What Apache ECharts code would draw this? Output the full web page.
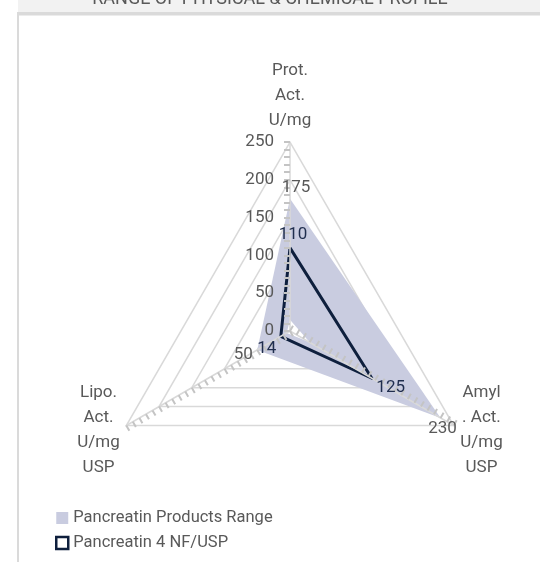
<!DOCTYPE html>
<html>
<head>
<meta charset="utf-8">
<script src="https://cdn.jsdelivr.net/npm/echarts@6/dist/echarts.min.js"></script>
<style>
html,body{margin:0;padding:0;background:#fff;}
#chart{width:540px;height:562px;}
</style>
</head>
<body>
<div id="chart"></div>
<script>
// ---- data (Excel order: clockwise from top) ----
const title = 'RANGE OF PHYSICAL & CHEMICAL PROFILE';
const categories = ['Prot.\nAct.\nU/mg', 'Amyl\n. Act.\nU/mg\nUSP', 'Lipo.\nAct.\nU/mg\nUSP'];
const rangeHigh = [175, 230, 50];
const rangeLow = [15, 30, 5];
const nfUsp = [110, 125, 14];
const axisMax = 250;
const tickLabels = [0, 50, 100, 150, 200, 250];
const legendNames = ['Pancreatin Products Range', 'Pancreatin 4 NF/USP'];

// ECharts places indicators counter-clockwise; map to clockwise display
const order = [0, 2, 1];
const reorder = arr => order.map(i => arr[i]);
const dispIdx = i => order.indexOf(i);

const FONT = 'Roboto';
const FS = 17;
const GRAY = '#595959';
const NAVY = '#0e1f3d';
const SHADE = '#c9cce0';

const nameRich = {n: {width: 40, align: 'center', fontSize: FS, lineHeight: 25, color: GRAY, fontFamily: FONT}};
function nameFmt(v) { return v.split('\n').map(s => '{n|' + s + '}').join('\n'); }

function radarBase(extra) {
  return Object.assign({
    center: [290, 331],
    radius: 189,
    startAngle: 90,
    splitNumber: 25,
    shape: 'polygon',
    indicator: order.map(i => ({name: categories[i], min: 0, max: axisMax})),
    splitArea: {show: false}
  }, extra);
}

const radars = [
  radarBase({
    z: 1,
    axisName: {formatter: nameFmt, rich: nameRich, color: GRAY, fontFamily: FONT},
    nameGap: 9,
    splitLine: {show: true, lineStyle: {color: ['#d9d9d9', 'rgba(0,0,0,0)', 'rgba(0,0,0,0)', 'rgba(0,0,0,0)', 'rgba(0,0,0,0)'], width: 1.5}},
    axisLine: {show: false},
    axisTick: {show: false},
    axisLabel: {show: false}
  }),
  radarBase({
    z: 5,
    axisName: {show: false},
    splitLine: {show: false},
    axisLine: {show: true, lineStyle: {color: '#d9d9d9', width: 1.5}},
    axisTick: {show: true, length: 6, lineStyle: {color: '#c4c4c4', width: 2}},
    axisLabel: {show: false, margin: 16, fontSize: FS, color: GRAY, fontFamily: FONT,
      formatter: v => tickLabels.indexOf(Math.round(v)) >= 0 ? String(Math.round(v)) : ''},
    indicator: order.map(i => ({name: categories[i], min: 0, max: axisMax,
      axisLabel: {show: i === 0}}))
  }),
  radarBase({
    z: 5,
    axisName: {show: false},
    splitLine: {show: false},
    axisLine: {show: false},
    axisTick: {show: true, inside: true, length: 6, lineStyle: {color: '#c4c4c4', width: 2}},
    axisLabel: {show: false}
  })
];

// label placement per (series, dimension) – style only
function labelItem(arr, dim, color, pos, offset) {
  const d = dispIdx(dim);
  return {
    name: '_lbl',
    value: reorder(arr),
    symbol: 'circle',
    symbolSize: 1,
    itemStyle: {color: 'rgba(0,0,0,0)'},
    lineStyle: {width: 0, opacity: 0},
    areaStyle: {opacity: 0},
    label: {show: true, position: pos, offset: offset || [0, 0], distance: 4,
      color: color, fontSize: FS, fontFamily: FONT,
      formatter: p => p.dimensionIndex === d ? String(p.value) : ''}
  };
}

const option = {
  animation: false,
  backgroundColor: '#fff',
  graphic: [
    {type: 'rect', shape: {x: 18, y: 0, width: 522, height: 12}, style: {fill: '#f2f2f2'}, z: 0},
    {type: 'rect', shape: {x: 17, y: 12, width: 523, height: 3.5}, style: {fill: '#dadada'}, z: 0},
    {type: 'rect', shape: {x: 17, y: 12, width: 2, height: 550}, style: {fill: '#dadada'}, z: 0},
    {type: 'text', x: 270, y: 8, z: 1,
      style: {text: title, fontSize: 18, fontFamily: FONT, fill: GRAY, align: 'center', verticalAlign: 'bottom'}}
  ],
  legend: {
    orient: 'vertical',
    left: 50,
    top: 503,
    itemWidth: 12,
    itemHeight: 12,
    itemGap: 5,
    icon: 'rect',
    selectedMode: false,
    textStyle: {fontSize: 16.5, lineHeight: 20, color: GRAY, fontFamily: FONT},
    data: [
      {name: legendNames[0], itemStyle: {color: SHADE, borderWidth: 0}},
      {name: legendNames[1], itemStyle: {color: '#ffffff', borderColor: NAVY, borderWidth: 2.5}}
    ]
  },
  radar: radars,
  series: [
    {
      type: 'radar',
      radarIndex: 0,
      z: 2,
      data: [
        {name: legendNames[0], value: reorder(rangeHigh), symbol: 'none',
          itemStyle: {color: SHADE}, lineStyle: {width: 0}, areaStyle: {color: SHADE, opacity: 1}},
        {name: '_low', value: reorder(rangeLow), symbol: 'none',
          itemStyle: {color: '#fff'}, lineStyle: {width: 0}, areaStyle: {color: '#fff', opacity: 1}},
        {name: legendNames[1], value: reorder(nfUsp), symbol: 'none',
          itemStyle: {color: NAVY}, lineStyle: {color: NAVY, width: 3}}
      ]
    },
    {
      type: 'radar',
      radarIndex: 0,
      z: 6,
      data: [
        labelItem(rangeHigh, 0, GRAY, 'top', [6, 2]),
        labelItem(rangeHigh, 1, GRAY, 'bottom', [2, -2]),
        labelItem(rangeHigh, 2, GRAY, 'left', [0, 5]),
        labelItem(nfUsp, 0, '#1f2d4d', 'top', [3, 0]),
        labelItem(nfUsp, 1, '#1f2d4d', 'right', [0, 9]),
        labelItem(nfUsp, 2, '#1f2d4d', 'left', [0, 12])
      ]
    }
  ]
};

const chart = echarts.init(document.getElementById('chart'), null, {renderer: 'canvas'});
chart.setOption(option);
</script>
</body>
</html>
